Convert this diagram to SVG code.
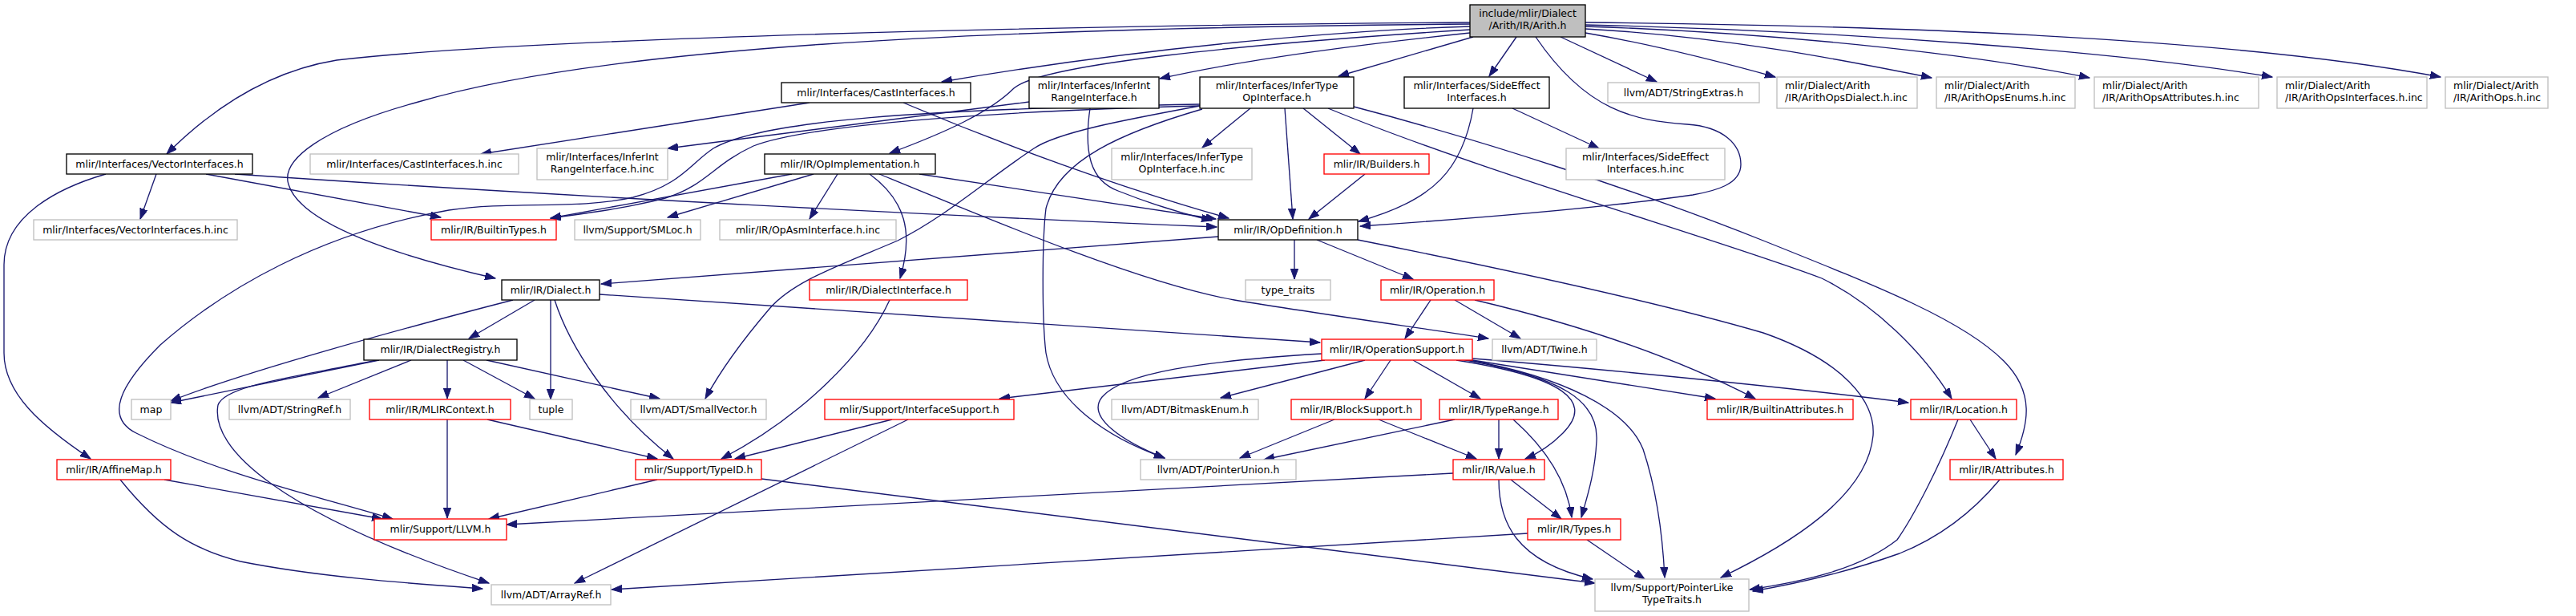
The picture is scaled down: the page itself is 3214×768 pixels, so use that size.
<svg xmlns="http://www.w3.org/2000/svg" width="3214" height="768" viewBox="0 0 3214 768">
<style>
rect{fill:#fff;stroke-width:1.33}
.k{stroke:#000}
.g{stroke:#bfbfbf}
.r{stroke:#f00}
.root{fill:#bfbfbf;stroke:#000}
text{font-family:"DejaVu Sans","Liberation Sans",sans-serif;font-size:12.5px;fill:#000;text-anchor:middle}
text.l{text-anchor:start}
#edges path{fill:none;stroke:#191970;stroke-width:1.33;marker-end:url(#a)}
</style>
<defs>
<marker id="a" markerWidth="14" markerHeight="10" refX="13" refY="4.7" orient="auto" markerUnits="userSpaceOnUse"><path d="M0,0 L13,4.7 L0,9.4 z" fill="#191970" stroke="#191970" stroke-width="1"/></marker>
</defs>
<rect x="0" y="0" width="3214" height="768" style="fill:#fff;stroke:none"/>
<g id="edges">
<path d="M1834,28 C1300,32 650,48 420,75 C340,88 270,130 208,192"/>
<path d="M1834,33 C1700,37 1450,55 1175,102"/>
<path d="M1834,37 C1550,55 1300,80 1265,110 C1235,140 1180,165 1110,191"/>
<path d="M1834,41 C1700,55 1550,75 1447,98"/>
<path d="M1838,46 L1670,95"/>
<path d="M1834,30 C1200,35 750,60 522,127 C400,160 350,200 360,230 C375,280 500,320 618,347"/>
<path d="M1892,46 L1858,95"/>
<path d="M1947,46 L2067,102"/>
<path d="M1916,46 C1980,140 2040,150 2105,155 C2150,158 2172,180 2172,205 C2172,230 2140,238 2112,243 C1980,262 1800,275 1697,282"/>
<path d="M1978,41 C2060,55 2150,78 2215,96"/>
<path d="M1978,36 C2150,45 2300,75 2410,97"/>
<path d="M1978,33 C2200,40 2450,65 2607,97"/>
<path d="M1978,31 C2300,38 2650,65 2835,96"/>
<path d="M1978,28 C2400,32 2800,50 3045,96"/>
<path d="M1560,135 L1500,184"/>
<path d="M1626,135 L1697,192"/>
<path d="M1603,135 L1613,273"/>
<path d="M1657,135 C1850,215 2150,300 2273,347 C2340,380 2400,440 2435,497"/>
<path d="M1689,133 C1850,175 2050,240 2200,300 C2350,360 2450,400 2500,450 C2540,490 2530,530 2515,567"/>
<path d="M1497,132 C1250,138 1010,155 940,182 C890,205 880,232 830,247 C780,260 730,266 687,272"/>
<path d="M1497,130 C1150,136 950,150 890,185 C860,205 850,230 790,246 C720,262 640,250 560,262 C400,290 280,360 200,430 C150,480 130,520 170,540 C270,590 400,620 490,647"/>
<path d="M1497,132 C1400,150 1320,165 1290,185 C1230,225 1180,270 1120,300 C1050,330 990,350 960,385 C930,420 900,460 880,497"/>
<path d="M1500,136 C1400,165 1320,200 1305,260 C1300,300 1300,400 1305,440 C1315,500 1380,545 1453,571"/>
<path d="M195,217 L175,273"/>
<path d="M132,217 C70,235 5,270 5,330 L5,440 C5,490 50,530 113,572"/>
<path d="M257,217 L550,271"/>
<path d="M293,217 C700,245 1200,270 1518,283"/>
<path d="M1010,128 L600,192"/>
<path d="M1127,128 C1250,180 1400,235 1533,272"/>
<path d="M1284,127 L833,185"/>
<path d="M1360,135 C1352,190 1360,225 1395,238 C1430,252 1470,265 1512,275"/>
<path d="M988,217 L687,272"/>
<path d="M1015,217 L833,271"/>
<path d="M1045,217 L1010,273"/>
<path d="M1085,217 C1130,250 1140,290 1123,347"/>
<path d="M1147,217 L1517,273"/>
<path d="M1097,217 C1250,280 1430,355 1540,374 C1650,392 1780,410 1857,422"/>
<path d="M1887,135 L1995,185"/>
<path d="M1838,135 C1825,210 1790,250 1695,276"/>
<path d="M1703,217 L1633,273"/>
<path d="M1615,299 L1615,348"/>
<path d="M1643,299 L1763,348"/>
<path d="M1520,295 L750,354"/>
<path d="M1694,299 C1900,340 2080,380 2200,415 C2300,450 2340,500 2337,543 C2330,620 2230,680 2147,720"/>
<path d="M1785,374 L1753,422"/>
<path d="M1815,374 L1897,422"/>
<path d="M1840,374 C1950,400 2080,440 2190,497"/>
<path d="M1649,441 C1500,450 1400,465 1375,495 C1355,520 1400,550 1453,571"/>
<path d="M1653,449 L1247,497"/>
<path d="M1703,449 L1523,496"/>
<path d="M1735,449 L1703,497"/>
<path d="M1763,449 L1847,497"/>
<path d="M1817,449 C1950,470 1990,500 1950,540 C1935,555 1920,565 1903,572"/>
<path d="M1823,448 C1950,470 1995,500 1992,550 C1990,590 1980,620 1973,645"/>
<path d="M1833,449 C1950,470 2030,510 2050,560 C2070,620 2075,680 2077,720"/>
<path d="M1837,449 L2140,497"/>
<path d="M1837,447 C2000,460 2250,485 2381,502"/>
<path d="M667,374 L585,422"/>
<path d="M687,374 L687,498"/>
<path d="M692,374 C710,430 760,510 840,572"/>
<path d="M640,374 C500,410 300,465 213,500"/>
<path d="M748,367 L1647,427"/>
<path d="M473,449 L213,502"/>
<path d="M470,449 C370,470 280,480 272,505 C262,560 350,640 610,727"/>
<path d="M513,449 L397,496"/>
<path d="M558,449 L558,497"/>
<path d="M578,449 L667,497"/>
<path d="M607,449 L823,497"/>
<path d="M558,523 L558,646"/>
<path d="M608,523 L820,572"/>
<path d="M205,598 L477,647"/>
<path d="M150,598 C200,660 240,685 300,700 C400,720 520,728 602,734"/>
<path d="M1110,374 C1080,440 1000,520 900,572"/>
<path d="M1113,523 L917,572"/>
<path d="M1133,523 L717,727"/>
<path d="M820,598 L610,647"/>
<path d="M950,597 L1990,727"/>
<path d="M1813,590 L632,654"/>
<path d="M1885,598 L1948,647"/>
<path d="M1870,598 C1870,650 1890,700 1987,722"/>
<path d="M1665,523 L1547,571"/>
<path d="M1720,523 L1842,572"/>
<path d="M1815,523 L1577,573"/>
<path d="M1870,523 L1870,572"/>
<path d="M1888,523 C1930,560 1955,600 1961,645"/>
<path d="M1980,673 L2052,722"/>
<path d="M1906,665 L763,735"/>
<path d="M2458,523 L2490,572"/>
<path d="M2443,523 C2420,580 2390,640 2367,673 C2320,710 2250,725 2183,735"/>
<path d="M2495,598 C2460,640 2420,670 2370,690 C2300,715 2240,728 2187,737"/>
</g>
<g id="n_root"><rect class="root" x="1834" y="6" width="144" height="40"/><text x="1906" y="21">include/mlir/Dialect</text><text x="1906" y="36">/Arith/IR/Arith.h</text></g>
<g id="n_cast"><rect class="k" x="975" y="103" width="236" height="25"/><text x="1093" y="119.5">mlir/Interfaces/CastInterfaces.h</text></g>
<g id="n_intrange"><rect class="k" x="1284" y="96" width="162" height="39"/><text x="1365" y="111">mlir/Interfaces/InferInt</text><text x="1365" y="126">RangeInterface.h</text></g>
<g id="n_infertype"><rect class="k" x="1497" y="96" width="192" height="39"/><text x="1593" y="111">mlir/Interfaces/InferType</text><text x="1593" y="126">OpInterface.h</text></g>
<g id="n_sideeffect"><rect class="k" x="1752" y="96" width="181" height="39"/><text x="1842.5" y="111">mlir/Interfaces/SideEffect</text><text x="1842.5" y="126">Interfaces.h</text></g>
<g id="n_strext"><rect class="g" x="2006" y="103" width="189" height="25"/><text x="2100.5" y="119.5">llvm/ADT/StringExtras.h</text></g>
<g id="n_opsdialect"><rect class="g" x="2217" y="96" width="175" height="39"/><text class="l" x="2227" y="111">mlir/Dialect/Arith</text><text class="l" x="2227" y="126">/IR/ArithOpsDialect.h.inc</text></g>
<g id="n_opsenums"><rect class="g" x="2416" y="96" width="173" height="39"/><text class="l" x="2426" y="111">mlir/Dialect/Arith</text><text class="l" x="2426" y="126">/IR/ArithOpsEnums.h.inc</text></g>
<g id="n_opsattr"><rect class="g" x="2613" y="96" width="205" height="39"/><text class="l" x="2623" y="111">mlir/Dialect/Arith</text><text class="l" x="2623" y="126">/IR/ArithOpsAttributes.h.inc</text></g>
<g id="n_opsiface"><rect class="g" x="2841" y="96" width="187" height="39"/><text class="l" x="2851" y="111">mlir/Dialect/Arith</text><text class="l" x="2851" y="126">/IR/ArithOpsInterfaces.h.inc</text></g>
<g id="n_ops"><rect class="g" x="3051" y="96" width="128" height="39"/><text class="l" x="3061" y="111">mlir/Dialect/Arith</text><text class="l" x="3061" y="126">/IR/ArithOps.h.inc</text></g>
<g id="n_vector"><rect class="k" x="83" y="192" width="232" height="25"/><text x="199" y="208.5">mlir/Interfaces/VectorInterfaces.h</text></g>
<g id="n_castinc"><rect class="g" x="387" y="192" width="260" height="25"/><text x="517" y="208.5">mlir/Interfaces/CastInterfaces.h.inc</text></g>
<g id="n_intrangeinc"><rect class="g" x="670" y="185" width="163" height="39"/><text x="751.5" y="200">mlir/Interfaces/InferInt</text><text x="751.5" y="215">RangeInterface.h.inc</text></g>
<g id="n_opimpl"><rect class="k" x="954" y="192" width="213" height="25"/><text x="1060.5" y="208.5">mlir/IR/OpImplementation.h</text></g>
<g id="n_infertypeinc"><rect class="g" x="1387" y="185" width="175" height="39"/><text x="1474.5" y="200">mlir/Interfaces/InferType</text><text x="1474.5" y="215">OpInterface.h.inc</text></g>
<g id="n_builders"><rect class="r" x="1652" y="192" width="131" height="25"/><text x="1717.5" y="208.5">mlir/IR/Builders.h</text></g>
<g id="n_sideeffectinc"><rect class="g" x="1954" y="185" width="198" height="39"/><text x="2053" y="200">mlir/Interfaces/SideEffect</text><text x="2053" y="215">Interfaces.h.inc</text></g>
<g id="n_vectorinc"><rect class="g" x="42" y="274" width="254" height="25"/><text x="169" y="290.5">mlir/Interfaces/VectorInterfaces.h.inc</text></g>
<g id="n_builtintypes"><rect class="r" x="538" y="274" width="156" height="25"/><text x="616" y="290.5">mlir/IR/BuiltinTypes.h</text></g>
<g id="n_smloc"><rect class="g" x="717" y="274" width="157" height="25"/><text x="795.5" y="290.5">llvm/Support/SMLoc.h</text></g>
<g id="n_opasm"><rect class="g" x="898" y="274" width="220" height="25"/><text x="1008" y="290.5">mlir/IR/OpAsmInterface.h.inc</text></g>
<g id="n_opdef"><rect class="k" x="1520" y="274" width="174" height="25"/><text x="1607" y="290.5">mlir/IR/OpDefinition.h</text></g>
<g id="n_dialect"><rect class="k" x="626" y="349" width="122" height="25"/><text x="687" y="365.5">mlir/IR/Dialect.h</text></g>
<g id="n_dialectiface"><rect class="r" x="1010" y="349" width="197" height="25"/><text x="1108.5" y="365.5">mlir/IR/DialectInterface.h</text></g>
<g id="n_typetraits"><rect class="g" x="1554" y="349" width="106" height="25"/><text x="1607" y="365.5">type_traits</text></g>
<g id="n_operation"><rect class="r" x="1723" y="349" width="141" height="25"/><text x="1793.5" y="365.5">mlir/IR/Operation.h</text></g>
<g id="n_registry"><rect class="k" x="454" y="423" width="191" height="26"/><text x="549.5" y="440">mlir/IR/DialectRegistry.h</text></g>
<g id="n_opsupport"><rect class="r" x="1649" y="423" width="188" height="26"/><text x="1743" y="440">mlir/IR/OperationSupport.h</text></g>
<g id="n_twine"><rect class="g" x="1862" y="423" width="130" height="26"/><text x="1927" y="440">llvm/ADT/Twine.h</text></g>
<g id="n_map"><rect class="g" x="164" y="498" width="49" height="25"/><text x="188.5" y="514.5">map</text></g>
<g id="n_stringref"><rect class="g" x="286" y="498" width="151" height="25"/><text x="361.5" y="514.5">llvm/ADT/StringRef.h</text></g>
<g id="n_mlircontext"><rect class="r" x="461" y="498" width="176" height="25"/><text x="549" y="514.5">mlir/IR/MLIRContext.h</text></g>
<g id="n_tuple"><rect class="g" x="661" y="498" width="53" height="25"/><text x="687.5" y="514.5">tuple</text></g>
<g id="n_smallvector"><rect class="g" x="787" y="498" width="169" height="25"/><text x="871.5" y="514.5">llvm/ADT/SmallVector.h</text></g>
<g id="n_ifacesupport"><rect class="r" x="1029" y="498" width="236" height="25"/><text x="1147" y="514.5">mlir/Support/InterfaceSupport.h</text></g>
<g id="n_bitmask"><rect class="g" x="1387" y="498" width="183" height="25"/><text x="1478.5" y="514.5">llvm/ADT/BitmaskEnum.h</text></g>
<g id="n_blocksupport"><rect class="r" x="1611" y="498" width="162" height="25"/><text x="1692" y="514.5">mlir/IR/BlockSupport.h</text></g>
<g id="n_typerange"><rect class="r" x="1796" y="498" width="148" height="25"/><text x="1870" y="514.5">mlir/IR/TypeRange.h</text></g>
<g id="n_builtinattr"><rect class="r" x="2130" y="498" width="182" height="25"/><text x="2221" y="514.5">mlir/IR/BuiltinAttributes.h</text></g>
<g id="n_location"><rect class="r" x="2384" y="498" width="132" height="25"/><text x="2450" y="514.5">mlir/IR/Location.h</text></g>
<g id="n_affinemap"><rect class="r" x="71" y="573" width="142" height="25"/><text x="142" y="589.5">mlir/IR/AffineMap.h</text></g>
<g id="n_typeid"><rect class="r" x="793" y="573" width="157" height="25"/><text x="871.5" y="589.5">mlir/Support/TypeID.h</text></g>
<g id="n_ptrunion"><rect class="g" x="1423" y="573" width="194" height="25"/><text x="1520" y="589.5">llvm/ADT/PointerUnion.h</text></g>
<g id="n_value"><rect class="r" x="1813" y="573" width="114" height="25"/><text x="1870" y="589.5">mlir/IR/Value.h</text></g>
<g id="n_attributes"><rect class="r" x="2433" y="573" width="141" height="25"/><text x="2503.5" y="589.5">mlir/IR/Attributes.h</text></g>
<g id="n_llvm"><rect class="r" x="467" y="647" width="165" height="26"/><text x="549.5" y="664">mlir/Support/LLVM.h</text></g>
<g id="n_types"><rect class="r" x="1906" y="647" width="116" height="26"/><text x="1964" y="664">mlir/IR/Types.h</text></g>
<g id="n_arrayref"><rect class="g" x="613" y="729" width="149" height="25"/><text x="687.5" y="745.5">llvm/ADT/ArrayRef.h</text></g>
<g id="n_ptrlike"><rect class="g" x="1990" y="722" width="192" height="40"/><text x="2086" y="737">llvm/Support/PointerLike</text><text x="2086" y="752">TypeTraits.h</text></g>
</svg>
